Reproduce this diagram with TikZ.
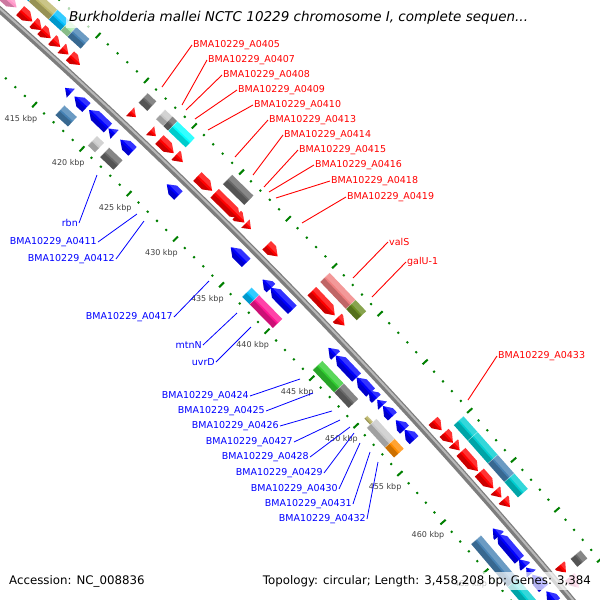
\documentclass[tikz,border=0pt]{standalone}
\usepackage{fontspec}
\setmainfont{DejaVu Sans}

\definecolor{tickgreen}{RGB}{0,128,0}
\definecolor{kbpgray}{RGB}{64,64,64}
\definecolor{bbgray}{RGB}{125,125,125}
\definecolor{bblight}{RGB}{185,185,185}
\definecolor{cogpink}{RGB}{255,150,200}
\definecolor{cogkhaki}{RGB}{189,183,107}
\definecolor{cogsky}{RGB}{0,191,255}
\definecolor{cogpale}{RGB}{170,235,170}
\definecolor{cogsteel}{RGB}{70,130,180}
\definecolor{cogdim}{RGB}{105,105,105}
\definecolor{coglight}{RGB}{200,200,200}
\definecolor{cogaqua}{RGB}{0,255,255}
\definecolor{cogcoral}{RGB}{240,128,128}
\definecolor{cogolive}{RGB}{107,142,35}
\definecolor{cogturq}{RGB}{0,206,209}
\definecolor{cogmagenta}{RGB}{255,20,147}
\definecolor{coglime}{RGB}{50,205,50}
\definecolor{cogorange}{RGB}{255,140,0}

% rows (radius in px from the map centre)
\def\rowfwd{5613}
\def\rowcogout{5632}
\def\rowrev{5586}
\def\rowcogin{5566}

% CDS arrow: tail x,y -- tip x,y (picture px), row, colour
\newcommand{\cds}[6]{%
  \pgfmathsetmacro\angA{atan2(#2-4192,#1+3724)}%
  \pgfmathsetmacro\angB{atan2(#4-4192,#3+3724)}%
  \pgfmathsetmacro\angC{\angB-sign(\angB-\angA)*min(abs(\angB-\angA),0.085)}%
  \pgfmathsetmacro\angD{\angC+0.8*(\angB-\angC)}%
  \fill[#6] (\angA:{#5-6}) -- (\angC:{#5-6}) -- (\angB:#5) -- (\angC:{#5+6}) -- (\angA:{#5+6}) -- cycle;
  \fill[black,opacity=0.2] (\angA:{#5-6}) -- (\angC:{#5-6}) -- (\angD:{#5-1.2}) -- (\angA:{#5-1.2}) -- cycle;
  \fill[white,opacity=0.2] (\angA:{#5+1.2}) -- (\angD:{#5+1.2}) -- (\angC:{#5+6}) -- (\angA:{#5+6}) -- cycle;}

% COG box: [half width] from x,y -- to x,y, row, colour
\newcommand{\cogbox}[7][6.5]{%
  \pgfmathsetmacro\angA{atan2(#3-4192,#2+3724)}%
  \pgfmathsetmacro\angB{atan2(#5-4192,#4+3724)}%
  \fill[#7] (\angA:{#6-#1}) -- (\angB:{#6-#1}) -- (\angB:{#6+#1}) -- (\angA:{#6+#1}) -- cycle;
  \fill[black,opacity=0.2] (\angA:{#6-#1}) -- (\angB:{#6-#1}) -- (\angB:{#6-1}) -- (\angA:{#6-1}) -- cycle;
  \fill[white,opacity=0.2] (\angA:{#6+1}) -- (\angB:{#6+1}) -- (\angB:{#6+#1}) -- (\angA:{#6+#1}) -- cycle;
  \draw[white,opacity=0.5,line width=0.5pt] (\angA:{#6-#1}) -- (\angA:{#6+#1});}

\begin{document}
\begin{tikzpicture}[x=1pt,y=-1pt,line cap=butt,
  tick/.style={draw=tickgreen,line width=2pt},
  kbp/.style={font=\fontsize{8}{9}\selectfont,text=kbpgray,inner sep=0pt},
  redlbl/.style={anchor=west,text=red,font=\fontsize{9.5}{11}\selectfont,inner sep=1pt},
  bluelbl/.style={anchor=east,text=blue,font=\fontsize{9.5}{11}\selectfont,inner sep=1pt},
  redline/.style={draw=red,line width=0.9pt},
  blueline/.style={draw=blue,line width=0.8pt},
  band/.style={fill=white,fill opacity=0.7,text opacity=1,inner sep=3pt}]
  \useasboundingbox (0,0) rectangle (600,600);
  \clip (0,0) rectangle (600,600);
  \fill[white] (0,0) rectangle (600,600);

  \begin{scope}[shift={(-3724,4192)}]
    % backbone
    \draw[bbgray,line width=6.5pt] (-48.8:5600) arc[start angle=-48.8,end angle=-39.4,radius=5600];
    \draw[bblight,line width=2pt] (-48.8:5601) arc[start angle=-48.8,end angle=-39.4,radius=5601];
    % rulers
    \foreach \kb in {400,...,476}{
      \pgfmathsetmacro\tang{-46.73+0.134*(\kb-420)}
      \pgfmathtruncatemacro\kmod{mod(\kb,5)}
      \ifnum\kmod=0
        \draw[tick] (\tang:5549.5) -- (\tang:5556.5);
        \draw[tick] (\tang:5643.5) -- (\tang:5650.5);
        \ifnum\kb>410 \ifnum\kb<470
          \node[kbp] (kbp\kb) at (\tang:5533) {\kb\ kbp};
        \fi\fi
      \else
        \draw[tick] (\tang:5552) -- (\tang:5554);
        \draw[tick] (\tang:5646) -- (\tang:5648);
      \fi
    }
    % forward CDS
    \cds{4}{-5}{16}{8}{\rowfwd}{cogpink}
    \cds{19}{12}{31}{23}{\rowfwd}{red}
    \cds{33}{23}{41}{31}{\rowfwd}{red}
    \cds{42}{29}{51}{38}{\rowfwd}{red}
    \cds{52}{40}{60}{47}{\rowfwd}{red}
    \cds{61}{49}{68}{55}{\rowfwd}{red}
    \cds{70}{56}{80}{65}{\rowfwd}{red}
    \cds{130}{112}{136}{117}{\rowfwd}{red}
    \cds{150}{131}{156}{136}{\rowfwd}{red}
    \cds{160}{139}{173}{154}{\rowfwd}{red}
    \cds{176}{155}{182}{163}{\rowfwd}{red}
    \cds{197}{177}{212}{191}{\rowfwd}{red}
    \cds{214}{194}{239}{219}{\rowfwd}{red}
    \cds{236}{216}{244}{223}{\rowfwd}{red}
    \cds{244}{225}{249}{231}{\rowfwd}{red}
    \cds{266}{246}{277}{257}{\rowfwd}{red}
    \cds{311}{292}{335}{315}{\rowfwd}{red}
    \cds{337}{318}{345}{325}{\rowfwd}{red}
    \cds{433}{421}{442}{430}{\rowfwd}{red}
    \cds{444}{433}{454}{442}{\rowfwd}{red}
    \cds{454}{443}{460}{450}{\rowfwd}{red}
    \cds{461}{452}{479}{470}{\rowfwd}{red}
    \cds{480}{472}{495}{487}{\rowfwd}{red}
    \cds{496}{490}{502}{497}{\rowfwd}{red}
    \cds{503}{500}{510}{507}{\rowfwd}{red}
    \cds{560}{565}{567}{572}{\rowfwd}{red}
    \cds{572}{575}{582}{585}{\rowfwd}{cogpink}
    % outer COG boxes
    \cogbox{18}{-12}{30}{0}{\rowcogout}{cogsky}
    \cogbox{30}{0}{50}{18}{\rowcogout}{cogkhaki}
    \cogbox{50}{18}{62}{29}{\rowcogout}{cogsky}
    \cogbox{62}{29}{69}{35}{\rowcogout}{cogpale}
    \cogbox{69}{35}{82}{47}{\rowcogout}{cogsteel}
    \cogbox{142}{99}{150}{108}{\rowcogout}{cogdim}
    \cogbox{159}{116}{166}{123}{\rowcogout}{coglight}
    \cogbox{166}{123}{171}{128}{\rowcogout}{cogdim}
    \cogbox{171}{128}{188}{145}{\rowcogout}{cogaqua}
    \cogbox{226}{181}{248}{201}{\rowcogout}{cogdim}
    \cogbox{324}{278}{350}{305}{\rowcogout}{cogcoral}
    \cogbox{350}{305}{361}{316}{\rowcogout}{cogolive}
    \cogbox{457}{422}{472}{437}{\rowcogout}{cogturq}
    \cogbox{472}{437}{493}{459}{\rowcogout}{cogturq}
    \cogbox{493}{459}{510}{477}{\rowcogout}{cogsteel}
    \cogbox{510}{477}{524}{492}{\rowcogout}{cogturq}
    \cogbox{575}{555}{583}{562}{\rowcogout}{cogdim}
    % reverse CDS
    \cds{70}{94}{64}{89}{\rowrev}{blue}
    \cds{85}{109}{73}{98}{\rowrev}{blue}
    \cds{107}{129}{88}{111}{\rowrev}{blue}
    \cds{114}{135}{108}{129}{\rowrev}{blue}
    \cds{132}{152}{120}{140}{\rowrev}{blue}
    \cds{179}{195}{166}{185}{\rowrev}{blue}
    \cds{245}{264}{230}{248}{\rowrev}{blue}
    \cds{271}{288}{262}{280}{\rowrev}{blue}
    \cds{292}{310}{270}{288}{\rowrev}{blue}
    \cds{335}{356}{327}{349}{\rowrev}{blue}
    \cds{357}{377}{335}{356}{\rowrev}{blue}
    \cds{369}{394}{356}{378}{\rowrev}{blue}
    \cds{376}{399}{368}{391}{\rowrev}{blue}
    \cds{383}{405}{377}{400}{\rowrev}{blue}
    \cds{394}{415}{383}{406}{\rowrev}{blue}
    \cds{404}{430}{396}{420}{\rowrev}{blue}
    \cds{414}{440}{403}{431}{\rowrev}{blue}
    \cds{500}{535}{492}{529}{\rowrev}{blue}
    \cds{519}{560}{498}{533}{\rowrev}{blue}
    \cds{525}{567}{518}{560}{\rowrev}{blue}
    \cds{532}{573}{527}{567}{\rowrev}{blue}
    \cds{545}{587}{533}{574}{\rowrev}{blue}
    \cds{558}{600}{548}{590}{\rowrev}{blue}
    % inner COG boxes
    \cogbox{61}{109}{73}{121}{\rowcogin}{cogsteel}
    \cogbox{93}{140}{100}{147}{\rowcogin}{coglight}
    \cogbox{106}{151}{119}{164}{\rowcogin}{cogdim}
    \cogbox{248}{291}{255}{299}{\rowcogin}{cogsky}
    \cogbox{255}{299}{279}{322}{\rowcogin}{cogmagenta}
    \cogbox{318}{365}{340}{387}{\rowcogin}{coglime}
    \cogbox{340}{387}{355}{402}{\rowcogin}{cogdim}
    \cogbox[2]{367}{416}{375}{422}{\rowcogin}{cogkhaki}
    \cogbox{372}{423}{391}{442}{\rowcogin}{coglight}
    \cogbox{391}{442}{400}{452}{\rowcogin}{cogorange}
    \cogbox{477}{539}{516}{580}{\rowcogin}{cogsteel}
    \cogbox{516}{580}{535}{602}{\rowcogin}{cogturq}
  \end{scope}

  % forward strand labels
  \coordinate (p0405) at (162,87);
  \coordinate (p0407) at (182,105);
  \coordinate (p0408) at (186,110);
  \coordinate (p0409) at (195,119);
  \coordinate (p0410) at (208,130);
  \coordinate (p0413) at (235,157);
  \coordinate (p0414) at (253,175);
  \coordinate (p0415) at (264,187);
  \coordinate (p0416) at (269,192);
  \coordinate (p0418) at (276,198);
  \coordinate (p0419) at (302,223);
  \coordinate (pvalS) at (353,278);
  \coordinate (pgalU) at (372,297);
  \coordinate (p0433) at (468,400);
  \node[redlbl] (n0405) at (192,45) {BMA10229\_A0405};
  \node[redlbl] (n0407) at (207,60) {BMA10229\_A0407};
  \node[redlbl] (n0408) at (222,75) {BMA10229\_A0408};
  \node[redlbl] (n0409) at (237,90) {BMA10229\_A0409};
  \node[redlbl] (n0410) at (253,105) {BMA10229\_A0410};
  \node[redlbl] (n0413) at (268,120) {BMA10229\_A0413};
  \node[redlbl] (n0414) at (283,135) {BMA10229\_A0414};
  \node[redlbl] (n0415) at (298,150) {BMA10229\_A0415};
  \node[redlbl] (n0416) at (314,165) {BMA10229\_A0416};
  \node[redlbl] (n0418) at (330,181) {BMA10229\_A0418};
  \node[redlbl] (n0419) at (346,197) {BMA10229\_A0419};
  \node[redlbl] (nvalS) at (388,242) {valS};
  \node[redlbl] (ngalU) at (406,262) {galU-1};
  \node[redlbl] (n0433) at (497,356) {BMA10229\_A0433};
  \draw[redline] (p0405) -- (n0405.west);
  \draw[redline] (p0407) -- (n0407.west);
  \draw[redline] (p0408) -- (n0408.west);
  \draw[redline] (p0409) -- (n0409.west);
  \draw[redline] (p0410) -- (n0410.west);
  \draw[redline] (p0413) -- (n0413.west);
  \draw[redline] (p0414) -- (n0414.west);
  \draw[redline] (p0415) -- (n0415.west);
  \draw[redline] (p0416) -- (n0416.west);
  \draw[redline] (p0418) -- (n0418.west);
  \draw[redline] (p0419) -- (n0419.west);
  \draw[redline] (pvalS) -- (nvalS.west);
  \draw[redline] (pgalU) -- (ngalU.west);
  \draw[redline] (p0433) -- (n0433.west);

  % reverse strand labels
  \coordinate (prbn) at (97,175);
  \coordinate (p0411) at (137,214);
  \coordinate (p0412) at (144,221);
  \coordinate (p0417) at (209,281);
  \coordinate (pmtnN) at (237,313);
  \coordinate (puvrD) at (251,327);
  \coordinate (p0424) at (300,379);
  \coordinate (p0425) at (313,393);
  \coordinate (p0426) at (332,411);
  \coordinate (p0427) at (340,420);
  \coordinate (p0428) at (350,427);
  \coordinate (p0429) at (354,433);
  \coordinate (p0430) at (360,443);
  \coordinate (p0431) at (370,452);
  \coordinate (p0432) at (378,462);
  \node[bluelbl] (nrbn) at (79,223) {rbn};
  \node[bluelbl] (n0411) at (98,242) {BMA10229\_A0411};
  \node[bluelbl] (n0412) at (116,259) {BMA10229\_A0412};
  \node[bluelbl] (n0417) at (174,317) {BMA10229\_A0417};
  \node[bluelbl] (nmtnN) at (203,345) {mtnN};
  \node[bluelbl] (nuvrD) at (216,362) {uvrD};
  \node[bluelbl] (n0424) at (250,396) {BMA10229\_A0424};
  \node[bluelbl] (n0425) at (266,411) {BMA10229\_A0425};
  \node[bluelbl] (n0426) at (280,426) {BMA10229\_A0426};
  \node[bluelbl] (n0427) at (294,442) {BMA10229\_A0427};
  \node[bluelbl] (n0428) at (310,457) {BMA10229\_A0428};
  \node[bluelbl] (n0429) at (324,473) {BMA10229\_A0429};
  \node[bluelbl] (n0430) at (339,489) {BMA10229\_A0430};
  \node[bluelbl] (n0431) at (353,504) {BMA10229\_A0431};
  \node[bluelbl] (n0432) at (367,519) {BMA10229\_A0432};
  \draw[blueline] (prbn) -- (nrbn.east);
  \draw[blueline] (p0411) -- (n0411.east);
  \draw[blueline] (p0412) -- (n0412.east);
  \draw[blueline] (p0417) -- (n0417.east);
  \draw[blueline] (pmtnN) -- (nmtnN.east);
  \draw[blueline] (puvrD) -- (nuvrD.east);
  \draw[blueline] (p0424) -- (n0424.east);
  \draw[blueline] (p0425) -- (n0425.east);
  \draw[blueline] (p0426) -- (n0426.east);
  \draw[blueline] (p0427) -- (n0427.east);
  \draw[blueline] (p0428) -- (n0428.east);
  \draw[blueline] (p0429) -- (n0429.east);
  \draw[blueline] (p0430) -- (n0430.east);
  \draw[blueline] (p0431) -- (n0431.east);
  \draw[blueline] (p0432) -- (n0432.east);

  % title and legend
  \node[band,anchor=west,font=\fontsize{13.5}{15}\selectfont\itshape] (title) at (66,18)
    {Burkholderia mallei NCTC 10229 chromosome I, complete sequen...};
  \node[band,anchor=west,font=\fontsize{11.8}{13}\selectfont] (accession) at (6,581)
    {Accession: NC\_008836};
  \node[band,anchor=east,font=\fontsize{11.8}{13}\selectfont] (topology) at (594,581)
    {Topology: circular; Length: 3,458,208 bp; Genes: 3,384};
\end{tikzpicture}
\end{document}
